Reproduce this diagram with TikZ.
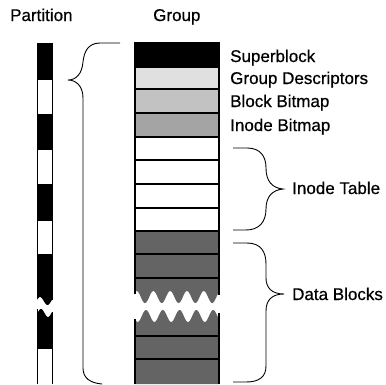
\documentclass[tikz,border=0pt]{standalone}
\usepackage{fontspec}
\setmainfont{Liberation Sans}[FakeBold=0.6]
\definecolor{gdgray}{HTML}{E0E0E0}
\definecolor{bbgray}{HTML}{C2C2C2}
\definecolor{ibgray}{HTML}{A4A4A4}
\definecolor{dbgray}{HTML}{646464}
\begin{document}
\begin{tikzpicture}[x=1pt,y=-1pt,
  lbl/.style={anchor=base west,inner sep=0pt,font=\fontsize{17}{17}\selectfont},
  rowline/.style={draw=black,line width=1.2pt},
  brace/.style={draw=black,line width=0.9pt}]
\useasboundingbox (0,0) rectangle (386,384);
% titles
\node[lbl] (tpart) at (10,21) {Partition};
\node[lbl] (tgroup) at (153,21) {Group};
% ---- partition bar ----
\fill[black] (37,43) rectangle (52,80);
\fill[white] (37,80) rectangle (52,114);
\fill[black] (37,114) rectangle (52,150);
\fill[white] (37,150) rectangle (52,184);
\fill[black] (37,184) rectangle (52,221);
\fill[white] (37,221) rectangle (52,254);
\fill[black] (37,254) -- (37,297) -- plot[domain=37:52,samples=40] (\x,{301-4*cos((\x-40)/15*360)}) -- (52,254) -- cycle;
\fill[black] (37,349) -- (37,309) -- plot[domain=37:52,samples=40] (\x,{313-4*cos((\x-41)/14*360)}) -- (52,349) -- cycle;
\fill[white] (37,349) rectangle (52,384);
\draw[line width=1pt] (37,43) -- (52,43);
\draw[line width=1pt] (37,43) -- (37,298);
\draw[line width=1pt] (52,43) -- (52,300);
\draw[line width=1pt] (37,309) -- (37,384);
\draw[line width=1pt] (52,312) -- (52,384);
% ---- group column ----
\fill[black] (135,43) rectangle (219,67);
\fill[gdgray] (135,67) rectangle (219,89);
\fill[bbgray] (135,89) rectangle (219,113);
\fill[ibgray] (135,113) rectangle (219,137);
\fill[white] (135,137) rectangle (219,231);
\fill[dbgray] (135,231) -- (135,294) -- plot[domain=135:219,samples=120] (\x,{297+6*cos((\x-145)/16.8*360)}) -- (219,231) -- cycle;
\fill[dbgray] (135,384) -- (135,319) -- plot[domain=135:219,samples=120] (\x,{316-6*cos((\x-146)/16.8*360)}) -- (219,384) -- cycle;
\foreach \y in {67,89,113,137,160,184,208,231,254,278,336,359}
  \draw[rowline] (135,\y) -- (219,\y);
\draw[line width=1.4pt] (135,294) -- (135,43) -- (219,43) -- (219,295);
\draw[line width=1.4pt] (135,319) -- (135,384);
\draw[line width=1.4pt] (219,313) -- (219,384);
% ---- labels ----
\node[lbl] (sb) at (230,62) {Superblock};
\node[lbl] (gd) at (230,84) {Group Descriptors};
\node[lbl] (bb) at (230,107) {Block Bitmap};
\node[lbl] (ib) at (230,131) {Inode Bitmap};
\node[lbl] (it) at (292,194) {Inode Table};
\node[lbl] (db) at (292,300) {Data Blocks};
% ---- braces ----
\draw[brace] (120,43) -- (100,43) .. controls (88,43) and (84,52) .. (83,62)
  .. controls (82,74) and (76,80) .. (68,80)
  .. controls (76,80) and (83,86) .. (83,98) -- (83,368)
  .. controls (83,378) and (90,383) .. (102,384);
\draw[brace] (233,148) -- (247,148) .. controls (261,148) and (266,157) .. (266,168)
  .. controls (266,181) and (272,188) .. (283,189)
  .. controls (272,190) and (266,197) .. (266,209)
  .. controls (266,222) and (259,230) .. (246,230) -- (233,230);
\draw[brace] (233,243) -- (247,243) .. controls (261,243) and (266,252) .. (266,264) -- (266,278)
  .. controls (266,288) and (272,294) .. (284,294)
  .. controls (272,294) and (266,300) .. (266,311) -- (266,366)
  .. controls (266,377) and (259,382) .. (246,382) -- (233,382);
\end{tikzpicture}
\end{document}
